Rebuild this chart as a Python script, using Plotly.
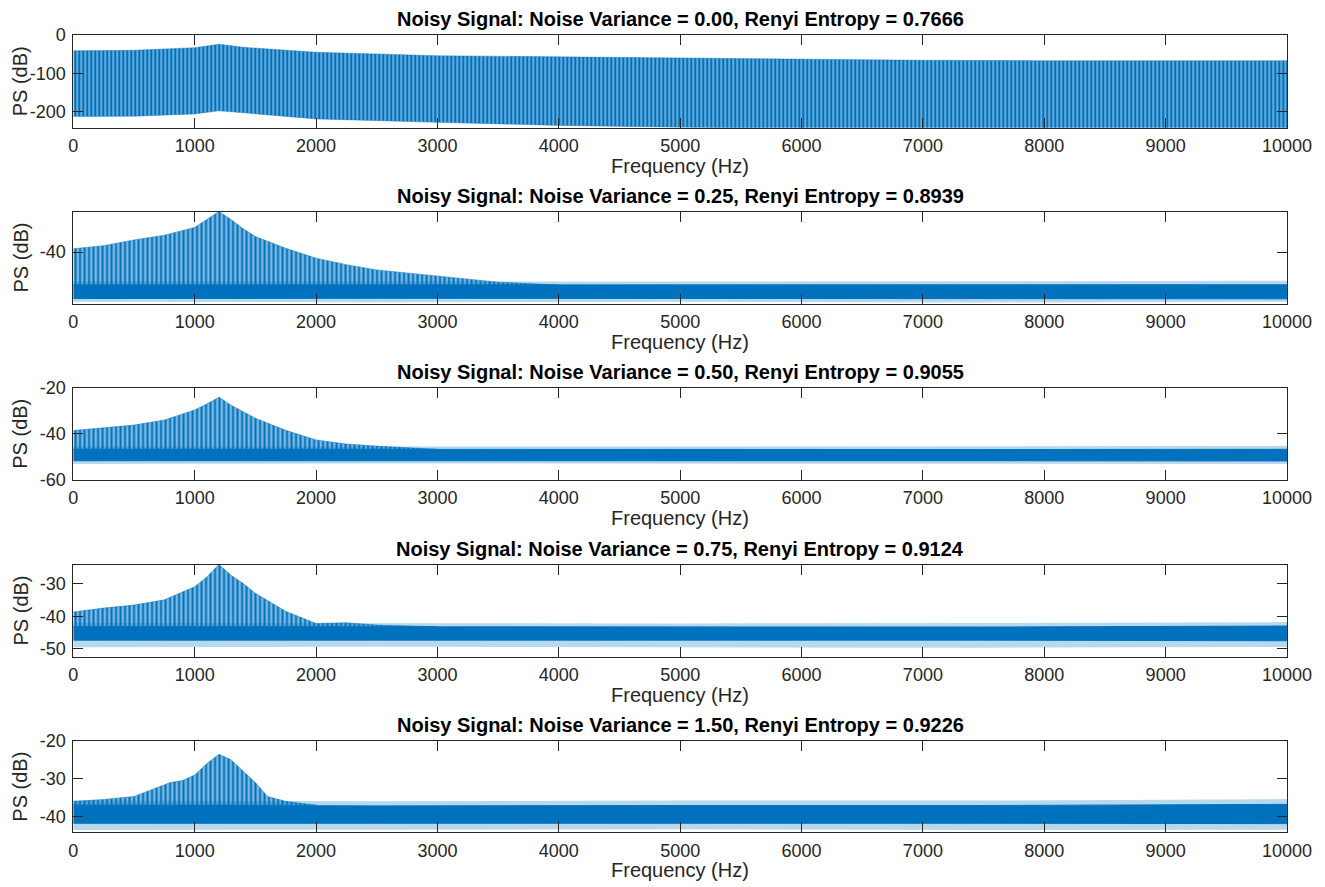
import plotly.graph_objects as go

W, H = 1325, 887
LEFT, RIGHT = 73.3, 1287.0
TOPS = [35.0, 211.5, 388.0, 564.5, 741.0]
BOTTOMS = [127.7, 303.5, 479.5, 656.5, 832.3]

BLUE = "#0072BD"
TXT = "#262626"
FONT = "Liberation Sans, Arial, Helvetica, sans-serif"

titles = [
    "Noisy Signal: Noise Variance = 0.00, Renyi Entropy = 0.7666",
    "Noisy Signal: Noise Variance = 0.25, Renyi Entropy = 0.8939",
    "Noisy Signal: Noise Variance = 0.50, Renyi Entropy = 0.9055",
    "Noisy Signal: Noise Variance = 0.75, Renyi Entropy = 0.9124",
    "Noisy Signal: Noise Variance = 1.50, Renyi Entropy = 0.9226",
]
y_ranges = [[-242, 0], [-59.7, -24.4], [-60, -20], [-52.3, -24.2], [-44.2, -20]]
y_ticks = [[-200, -100, 0], [-60, -40], [-60, -40, -20], [-50, -40, -30], [-40, -30, -20]]
x_ticks = [0, 1000, 2000, 3000, 4000, 5000, 6000, 7000, 8000, 9000, 10000]

# ---- Panel 1: clean signal, harmonic line envelope ----
clean_freq = [0, 500, 1000, 1200, 1400, 2000, 3000, 4000, 5000, 6000, 7000, 8000, 9000, 10000]
clean_upper = [-41, -40, -33, -24, -32, -45, -54, -57, -61, -64, -66, -67, -67, -67]
clean_lower = [-213, -212, -206, -198, -203, -219, -228, -236, -241, -245, -245, -245, -245, -245]

# ---- Panels 2-5: harmonic peak envelope above the noise floor ----
harm_freq_1 = [0, 250, 500, 750, 1000, 1100, 1200, 1300, 1400, 1500, 1750, 2000, 2250, 2500, 2750, 3000, 3250, 3500, 4000]
harm_upper_1 = [-38.7, -37.5, -35.3, -33.5, -30.5, -27.5, -24.4, -27.5, -31, -34, -38.5, -42.3, -44.8, -46.8, -48, -49.3, -50.5, -51.5, -52.6]
noise_freq_1 = [0, 2500, 5000, 7500, 10000]
noise_top_1 = [-52.6, -52.6, -52.7, -52.6, -52.5]
noise_bot_1 = [-57.8, -57.7, -57.8, -57.8, -57.9]
spike_top_1 = [-51.3, -51.4, -51.3, -51.2, -51.0]
spike_bot_1 = [-59.0, -59.2, -59.0, -59.3, -59.0]

harm_freq_2 = [0, 250, 500, 750, 1000, 1100, 1200, 1300, 1400, 1500, 1750, 2000, 2250, 2500, 3000]
harm_upper_2 = [-38.6, -37.5, -36.2, -34, -29.6, -27, -24, -27.5, -30.5, -33.2, -38.5, -42.7, -44.5, -45.4, -46.8]
noise_freq_2 = [0, 2500, 5000, 7500, 10000]
noise_top_2 = [-46.8, -46.9, -47.0, -46.9, -46.8]
noise_bot_2 = [-51.8, -51.7, -51.8, -51.8, -51.9]
spike_top_2 = [-45.5, -45.7, -45.6, -45.5, -45.3]
spike_bot_2 = [-53.2, -53.0, -53.3, -53.1, -53.2]

harm_freq_3 = [0, 250, 500, 750, 1000, 1100, 1200, 1300, 1400, 1500, 1750, 2000, 2250, 2500, 3000]
harm_upper_3 = [-38.7, -37.5, -36.6, -35, -31, -28, -24.2, -27.5, -30, -33, -38.5, -42.2, -42, -42.7, -43.2]
noise_freq_3 = [0, 2500, 5000, 7500, 10000]
noise_top_3 = [-43.2, -43.3, -43.3, -43.3, -43.0]
noise_bot_3 = [-47.3, -47.3, -47.4, -47.3, -47.5]
spike_top_3 = [-42.0, -42.2, -42.2, -42.1, -41.8]
spike_bot_3 = [-49.5, -49.3, -49.5, -49.6, -49.4]

harm_freq_4 = [0, 250, 500, 600, 700, 800, 900, 1000, 1100, 1200, 1300, 1400, 1500, 1600, 1750, 2000]
harm_upper_4 = [-36, -35.5, -34.7, -33.5, -32.4, -31, -30.5, -29, -26, -23.5, -25, -28, -31, -34.7, -36, -37]
noise_freq_4 = [0, 2500, 5000, 7500, 10000]
noise_top_4 = [-37.0, -37.2, -37.1, -37.1, -36.8]
noise_bot_4 = [-41.8, -41.8, -41.9, -41.8, -41.9]
spike_top_4 = [-35.8, -36.0, -35.8, -35.8, -35.4]
spike_bot_4 = [-43.6, -43.5, -43.4, -43.6, -43.5]

harm_freq = [harm_freq_1, harm_freq_2, harm_freq_3, harm_freq_4]
harm_upper = [harm_upper_1, harm_upper_2, harm_upper_3, harm_upper_4]
noise_freq = [noise_freq_1, noise_freq_2, noise_freq_3, noise_freq_4]
noise_top = [noise_top_1, noise_top_2, noise_top_3, noise_top_4]
noise_bot = [noise_bot_1, noise_bot_2, noise_bot_3, noise_bot_4]
spike_top = [spike_top_1, spike_top_2, spike_top_3, spike_top_4]
spike_bot = [spike_bot_1, spike_bot_2, spike_bot_3, spike_bot_4]

fig = go.Figure()

stripe_clean = dict(shape="|", fgcolor=BLUE, bgcolor="rgba(0,114,189,0.6)", size=4, solidity=0.5)
stripe = dict(shape="|", fgcolor=BLUE, bgcolor="rgba(0,114,189,0.5)", size=4.5, solidity=0.45)

# Panel 1
fig.add_trace(go.Scatter(
    x=clean_freq + clean_freq[::-1], y=clean_upper + clean_lower[::-1],
    fill="toself", fillcolor="rgba(0,114,189,0.75)", fillpattern=stripe_clean,
    line=dict(color="rgba(0,114,189,0.5)", width=0.8), mode="lines", xaxis="x", yaxis="y",
    hoverinfo="skip", showlegend=False))

for k in range(4):
    ax = str(k + 2)
    hf, hu = harm_freq[k], harm_upper[k]
    nf = noise_freq[k]
    nt = noise_top[k]
    # noise spike fringe
    fig.add_trace(go.Scatter(
        x=nf + nf[::-1], y=spike_top[k] + spike_bot[k][::-1],
        fill="toself", fillcolor="rgba(0,114,189,0.28)", line=dict(width=0),
        mode="lines", xaxis="x" + ax, yaxis="y" + ax,
        hoverinfo="skip", showlegend=False))
    # harmonic lines region (from noise floor up to peak envelope)
    fig.add_trace(go.Scatter(
        x=hf + [hf[-1], hf[0]], y=hu + [nt[0], nt[0]],
        fill="toself", fillcolor="rgba(0,114,189,0.6)", fillpattern=stripe,
        line=dict(color="rgba(0,114,189,0.6)", width=0.8), mode="lines",
        xaxis="x" + ax, yaxis="y" + ax, hoverinfo="skip", showlegend=False))
    # dense noise floor band
    fig.add_trace(go.Scatter(
        x=nf + nf[::-1], y=nt + noise_bot[k][::-1],
        fill="toself", fillcolor=BLUE, line=dict(color=BLUE, width=1),
        mode="lines", xaxis="x" + ax, yaxis="y" + ax,
        hoverinfo="skip", showlegend=False))

layout = dict(
    template="none",
    width=W, height=H, margin=dict(l=0, r=0, t=0, b=0, pad=0),
    paper_bgcolor="white", plot_bgcolor="white",
    font=dict(family=FONT, color=TXT, size=18),
    showlegend=False,
)

annotations = []
for i in range(5):
    sfx = "" if i == 0 else str(i + 1)
    y0 = 1 - BOTTOMS[i] / H
    y1 = 1 - TOPS[i] / H
    layout["xaxis" + sfx] = dict(
        domain=[LEFT / W, RIGHT / W], range=[0, 10000], tickvals=x_ticks,
        ticktext=[str(v) for v in x_ticks], automargin=False,
        ticks="inside", ticklen=10, tickwidth=1, tickcolor=TXT,
        showline=True, linecolor=TXT, linewidth=1, mirror="allticks",
        showgrid=False, zeroline=False, anchor="y" + sfx,
        tickfont=dict(size=18, color=TXT, family=FONT), ticklabelstandoff=2,
    )
    layout["yaxis" + sfx] = dict(
        domain=[y0, y1], range=y_ranges[i], tickvals=y_ticks[i],
        ticktext=[str(v) for v in y_ticks[i]], automargin=False,
        ticks="inside", ticklen=10, tickwidth=1, tickcolor=TXT,
        showline=True, linecolor=TXT, linewidth=1, mirror="allticks",
        showgrid=False, zeroline=False, anchor="x" + sfx,
        tickfont=dict(size=18, color=TXT, family=FONT), ticklabelstandoff=3,
    )
    annotations.append(dict(
        text="<b>" + titles[i] + "</b>", x=(LEFT + RIGHT) / 2 / W, y=1 - (TOPS[i] - 16) / H,
        xref="paper", yref="paper", xanchor="center", yanchor="middle",
        showarrow=False, font=dict(size=20, color="black", family=FONT)))
    annotations.append(dict(
        text="Frequency (Hz)", x=(LEFT + RIGHT) / 2 / W, y=1 - (BOTTOMS[i] + 38) / H,
        xref="paper", yref="paper", xanchor="center", yanchor="middle",
        showarrow=False, font=dict(size=20, color=TXT, family=FONT)))
    annotations.append(dict(
        text="PS (dB)", x=20 / W, y=1 - (TOPS[i] + BOTTOMS[i]) / 2 / H,
        xref="paper", yref="paper", xanchor="center", yanchor="middle", textangle=-90,
        showarrow=False, font=dict(size=20, color=TXT, family=FONT)))

layout["annotations"] = annotations
fig.update_layout(**layout)

fig.write_html("out.html")
